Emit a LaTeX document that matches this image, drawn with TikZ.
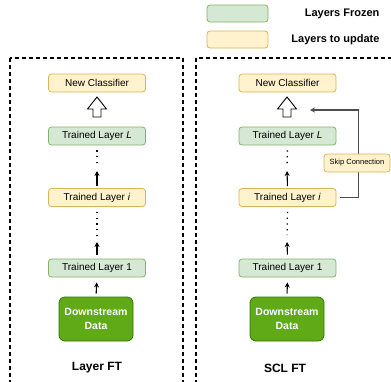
\documentclass[tikz,border=0pt]{standalone}
\usepackage{fontspec}
\setmainfont{Liberation Sans}
\usetikzlibrary{positioning,arrows.meta}
\definecolor{frozenfill}{HTML}{D5E8D4}
\definecolor{frozenline}{HTML}{82B366}
\definecolor{updatefill}{HTML}{FFF2CC}
\definecolor{updateline}{HTML}{D6B656}
\definecolor{datafill}{HTML}{60A917}
\definecolor{dataline}{HTML}{2D7600}
\definecolor{skipgrey}{HTML}{4D4D4D}

\begin{document}
\begin{tikzpicture}[
    x=1pt, y=-1pt,
    >={Stealth[length=5pt,width=5pt]},
    layer/.style={
        draw,
        rounded corners=3pt,
        line width=0.8pt,
        align=center,
        inner sep=0pt,
        font=\fontsize{10}{12}\selectfont,
        minimum width=97pt,
        minimum height=18pt
    },
    frozen/.style={layer, fill=frozenfill, draw=frozenline},
    update/.style={layer, fill=updatefill, draw=updateline},
    data/.style={
        draw=dataline,
        fill=datafill,
        text=white,
        rounded corners=6pt,
        line width=0.8pt,
        align=center,
        inner sep=0pt,
        font=\fontsize{10.5}{14}\selectfont\bfseries,
        minimum width=74pt,
        minimum height=44pt
    },
    legendtext/.style={anchor=east, font=\fontsize{11}{13}\selectfont\bfseries},
    paneltitle/.style={font=\fontsize{12}{14}\selectfont\bfseries},
    panel/.style={line width=1.2pt, dash pattern=on 4pt off 3pt},
    arrow/.style={->, line width=1.1pt},
    dots/.style={line width=1.3pt, dash pattern=on 1.3pt off 4.4pt},
    skip/.style={->, line width=1.1pt, draw=skipgrey},
    skiplabel/.style={
        draw=updateline,
        fill=updatefill,
        rounded corners=3pt,
        line width=0.8pt,
        inner sep=0pt,
        font=\fontsize{7.5}{9}\selectfont,
        minimum width=66pt,
        minimum height=18pt
    },
    hollowup/.pic={
        \draw[fill=white, line width=0.9pt] (0,0) -- (9.5,12) -- (4,12) -- (4,20)
            -- (-4,20) -- (-4,12) -- (-9.5,12) -- cycle;
    }
]
\useasboundingbox (0,0) rectangle (391,381);

% LEGEND
\node[frozen, minimum width=61pt, minimum height=17pt] (keyfrozen) at (237.5,13.5) {};
\node[update, minimum width=61pt, minimum height=17pt] (keyupdate) at (237.5,39.5) {};
\node[legendtext] (keyfrozentext) at (383,13.5) {Layers Frozen};
\node[legendtext] (keyupdatetext) at (383,39.5) {Layers to update};

% PANELS
\draw[panel] (10,58) rectangle (183,383);
\draw[panel] (196,58) rectangle (396,383);

% LAYER FT
\node[update] (clsL) at (97,83) {New Classifier};
\pic at (97,97) {hollowup};
\node[frozen] (topL) at (97,136) {Trained Layer \textit{L}};
\node[update] (midL) at (97,197.5) {Trained Layer \textit{i}};
\node[frozen] (oneL) at (97,268) {Trained Layer 1};
\node[data] (dataL) at (96,319) {Downstream\\Data};
\node[paneltitle] (titleL) at (97,368) {Layer FT};

\coordinate (gapLa) at (97,169);
\coordinate (gapLb) at (97,240);

\draw[dots, shorten <=5pt, shorten >=2pt] (topL.south) -- (gapLa);
\draw[arrow, shorten <=2pt, shorten >=2pt] (midL.north) -- (gapLa);
\draw[dots, shorten <=5pt, shorten >=5pt] (midL.south) -- (gapLb);
\draw[arrow, shorten <=4pt, shorten >=2pt] (oneL.north) -- (gapLb);
\draw[arrow, shorten <=3pt, shorten >=5pt] (dataL.north) -- (oneL.south);

% SCL FT
\node[update] (clsS) at (287.5,83) {New Classifier};
\pic at (287,97) {hollowup};
\node[frozen] (topS) at (287.5,136) {Trained Layer \textit{L}};
\node[update] (midS) at (287.5,197.5) {Trained Layer \textit{i}};
\node[frozen] (oneS) at (287.5,268) {Trained Layer 1};
\node[data] (dataS) at (287,319) {Downstream\\Data};
\node[paneltitle] (titleS) at (285,368) {SCL FT};

\coordinate (gapSa) at (287,169);
\coordinate (gapSb) at (287,240);
\coordinate (skipend) at (310,110);

\draw[dots, shorten <=5pt, shorten >=2pt] (topS.south) -- (gapSa);
\draw[arrow, shorten <=2pt, shorten >=2pt] (midS.north) -- (gapSa);
\draw[dots, shorten <=5pt, shorten >=5pt] (midS.south) -- (gapSb);
\draw[arrow, shorten <=4pt, shorten >=2pt] (oneS.north) -- (gapSb);
\draw[arrow, shorten <=3pt, shorten >=5pt] (dataS.north) -- (oneS.south);

% SKIP CONNECTION
\draw[skip, shorten <=4pt] (midS.east) -- ++(22,0) |- (skipend);
\node[skiplabel] (skipbox) at (357,163) {Skip Connection};

\end{tikzpicture}
\end{document}
